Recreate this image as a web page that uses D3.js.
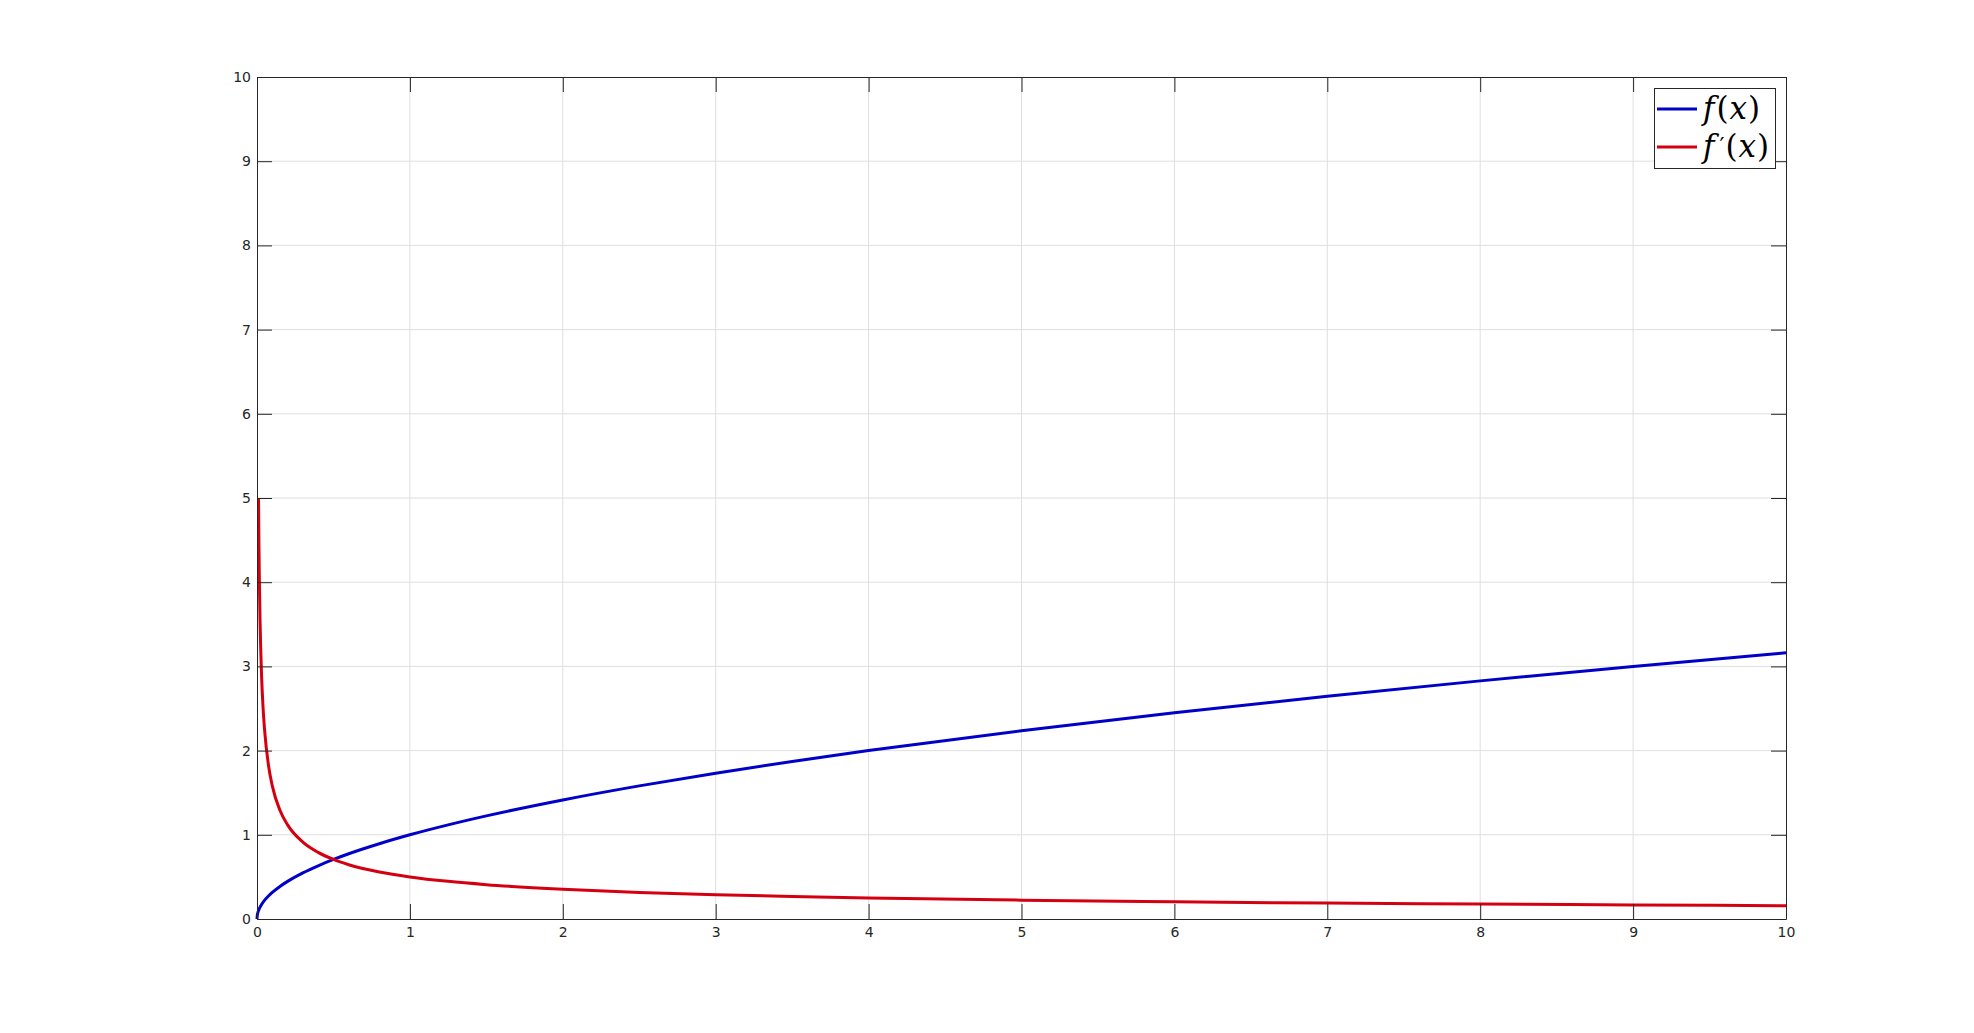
<!DOCTYPE html>
<html><head><meta charset="utf-8">
<script src="https://cdn.jsdelivr.net/npm/d3@7"></script>
<style>body{margin:0;background:#fff}svg{display:block}</style>
</head><body>
<script>
const xTicks = [0,1,2,3,4,5,6,7,8,9,10];
const yTicks = [0,1,2,3,4,5,6,7,8,9,10];
const xBlue = [0,0.002,0.005,0.01,0.015,0.02,0.03,0.05,0.075,0.1,0.15,0.2,0.3,0.4,0.5,0.6,0.8,1,1.25,1.5,2,2.5,3,3.5,4,5,6,7,8,9,10];
const yBlue = [0,0.045,0.071,0.1,0.122,0.141,0.173,0.224,0.274,0.316,0.387,0.447,0.548,0.632,0.707,0.775,0.894,1,1.118,1.225,1.414,1.581,1.732,1.871,2,2.236,2.449,2.646,2.828,3,3.162];
const xRed = [0.01,0.0125,0.015,0.02,0.03,0.04,0.05,0.075,0.1,0.15,0.2,0.3,0.4,0.5,0.6,0.8,1,1.25,1.5,2,2.5,3,3.5,4,5,6,7,8,9,10];
const yRed = [5,4.472,4.082,3.536,2.887,2.5,2.236,1.826,1.581,1.291,1.118,0.913,0.791,0.707,0.645,0.559,0.5,0.447,0.408,0.354,0.316,0.289,0.267,0.25,0.224,0.204,0.189,0.177,0.167,0.158];
const seriesNames = ["f(x)","f′(x)"];

(function(){
const W=1974,H=1033;
const L=257,R=1786,T=77,B=919;
const svg=d3.select("body").append("svg").attr("width",W).attr("height",H);
const x=d3.scaleLinear().domain([0,10]).range([L,R]);
const y=d3.scaleLinear().domain([0,10]).range([B,T]);
const axisCol="#262626";

// grid
const g=svg.append("g");
g.selectAll(".gx").data(xTicks.slice(1,-1)).join("line")
 .attr("x1",d=>x(d)).attr("x2",d=>x(d)).attr("y1",T).attr("y2",B)
 .attr("stroke","#dfdfdf").attr("stroke-width",1);
g.selectAll(".gy").data(yTicks.slice(1,-1)).join("line")
 .attr("y1",d=>y(d)).attr("y2",d=>y(d)).attr("x1",L).attr("x2",R)
 .attr("stroke","#dfdfdf").attr("stroke-width",1);

// curves
const line=d3.line().curve(d3.curveMonotoneX);
svg.append("path").attr("d",line(xBlue.map((v,i)=>[x(v),y(yBlue[i])])))
 .attr("fill","none").attr("stroke","#0000c8").attr("stroke-width",3);
svg.append("path").attr("d",line(xRed.map((v,i)=>[x(v),y(yRed[i])])))
 .attr("fill","none").attr("stroke","#d40010").attr("stroke-width",3);

// axes
const tl=15;
const axB=d3.axisBottom(x).tickValues(xTicks).tickSizeInner(-tl).tickSizeOuter(0).tickPadding(8);
const axT=d3.axisTop(x).tickValues(xTicks).tickSizeInner(-tl).tickSizeOuter(0).tickFormat("");
const axL=d3.axisLeft(y).tickValues(yTicks).tickSizeInner(-tl).tickSizeOuter(0).tickPadding(6);
const axR=d3.axisRight(y).tickValues(yTicks).tickSizeInner(-tl).tickSizeOuter(0).tickFormat("");
function style(sel){sel.selectAll("path,line").attr("stroke",axisCol);sel.selectAll("text").attr("fill",axisCol).attr("font-size",14).attr("font-family","DejaVu Sans, sans-serif");}
svg.append("g").attr("transform",`translate(0,${B})`).call(axB).call(style);
svg.append("g").attr("transform",`translate(0,${T})`).call(axT).call(style);
svg.append("g").attr("transform",`translate(${L},0)`).call(axL).call(style);
svg.append("g").attr("transform",`translate(${R},0)`).call(axR).call(style);

// legend
const lg=svg.append("g");
lg.append("rect").attr("x",1654.5).attr("y",88.5).attr("width",121).attr("height",80)
 .attr("fill","#fff").attr("stroke",axisCol).attr("stroke-width",1);
const cols=["#0000c8","#d40010"];
const ly=[109,147];
seriesNames.forEach((n,i)=>{
  lg.append("line").attr("x1",1657).attr("x2",1697).attr("y1",ly[i]).attr("y2",ly[i])
    .attr("stroke",cols[i]).attr("stroke-width",3);
  const t=lg.append("text").attr("x",1703).attr("y",ly[i]+9.5)
    .attr("font-family","DejaVu Serif, Liberation Serif, serif").attr("font-size",31)
    .attr("letter-spacing",1).attr("fill","#000");
  t.append("tspan").attr("font-style","italic").text("f");
  if(n.indexOf("′")>=0){
    t.append("tspan").attr("dx",4).attr("font-size",22).attr("dy",-4).text("′");
    t.append("tspan").attr("dy",4).attr("dx",0).text("(");
  } else {
    t.append("tspan").attr("dx",1).text("(");
  }
  t.append("tspan").attr("font-style","italic").text("x");
  t.append("tspan").text(")");
});
})();
</script>
</body></html>
